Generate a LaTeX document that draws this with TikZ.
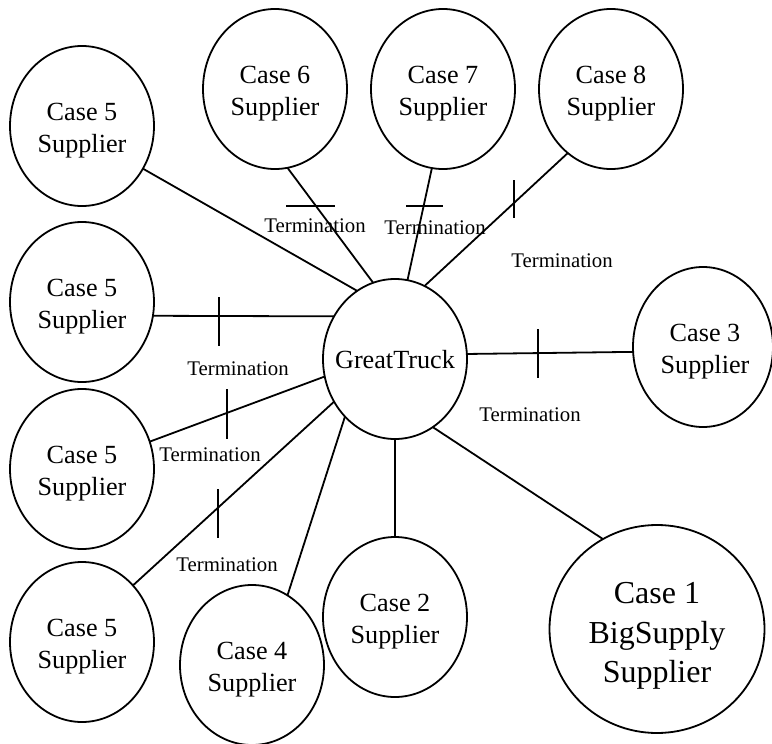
\documentclass[tikz,border=0pt]{standalone}
\usepackage{fontspec}
\setmainfont{Liberation Serif}
\usetikzlibrary{shapes.geometric}
\begin{document}
\begin{tikzpicture}[x=0.5pt,y=-0.5pt,
  party/.style={ellipse,draw,line width=0.9pt,minimum width=72pt,minimum height=80pt,
    inner sep=0pt,outer sep=0pt},
  caption/.style={inner sep=0pt,align=center,font=\fontsize{13.1pt}{16pt}\selectfont},
  link/.style={line width=0.9pt},
  termbar/.style={line width=0.9pt},
  term/.style={inner sep=0pt,font=\fontsize{10.4pt}{12pt}\selectfont}]
\useasboundingbox (0,0) rectangle (772,744);

% hub
\node[party] (gt) at (395,359) {};
\node[caption] (gt-t) at (395,360) {GreatTruck};

% suppliers
\node[party] (c5a) at (82,126) {};
\node[party] (c5b) at (82,302) {};
\node[party] (c5c) at (82,469) {};
\node[party] (c5d) at (82,642) {};
\node[party] (c6) at (275,89) {};
\node[party] (c7) at (443,89) {};
\node[party] (c8) at (611,89) {};
\node[party,minimum width=70pt] (c3) at (703,347) {};
\node[party] (c2) at (395,617) {};
\node[party] (c4) at (252,665) {};
\node[party,minimum width=107.5pt,minimum height=104pt] (c1) at (657,629) {};

% supplier names
\node[caption] (c5a-t) at (82,131) {Case 5\\Supplier};
\node[caption] (c5b-t) at (82,307) {Case 5\\Supplier};
\node[caption] (c5c-t) at (82,474) {Case 5\\Supplier};
\node[caption] (c5d-t) at (82,647) {Case 5\\Supplier};
\node[caption] (c6-t) at (275,94) {Case 6\\Supplier};
\node[caption] (c7-t) at (443,94) {Case 7\\Supplier};
\node[caption] (c8-t) at (611,94) {Case 8\\Supplier};
\node[caption] (c3-t) at (705,352) {Case 3\\Supplier};
\node[caption] (c2-t) at (395,622) {Case 2\\Supplier};
\node[caption] (c4-t) at (252,670) {Case 4\\Supplier};
\node[caption,font=\fontsize{16pt}{19.75pt}\selectfont] (c1-t) at (657,636)
  {Case 1\\BigSupply\\Supplier};

% relationships
\draw[link] (c5a.-35.8) -- (gt.119.2);
\draw[link] (c6.-81.4) -- (gt.106.9);
\draw[link] (c7.-98.5) -- (gt.81.4);
\draw[link] (c8.-124.1) -- (gt.68.6);
\draw[link] (c5b.-11.2) -- (gt.145.3);
\draw[link] (c5c.22.6) -- (gt.194);
\draw[link] (c5d.48.7) -- (gt.215.4);
\draw[link] (c4.63.4) -- (gt.229.7);
\draw[link] (gt.south) -- (c2.north);
\draw[link] (gt.-61.4) -- (c1.121.8);
\draw[link] (gt.4.8) -- (c3.184.8);

% termination bars
\draw[termbar] (286,206) -- (335,206);
\draw[termbar] (406,206) -- (443,206);
\draw[termbar] (514,180) -- (514,218);
\draw[termbar] (219,297) -- (219,346);
\draw[termbar] (227,389) -- (227,439);
\draw[termbar] (218,489) -- (218,538);
\draw[termbar] (538,329) -- (538,378);

% termination labels
\node[term] (t6) at (315,226) {Termination};
\node[term] (t7) at (435,228) {Termination};
\node[term] (t8) at (562,261) {Termination};
\node[term] (t5b) at (238,369) {Termination};
\node[term] (t5c) at (210,455) {Termination};
\node[term] (t5d) at (227,565) {Termination};
\node[term] (t3) at (530,415) {Termination};
\end{tikzpicture}
\end{document}
